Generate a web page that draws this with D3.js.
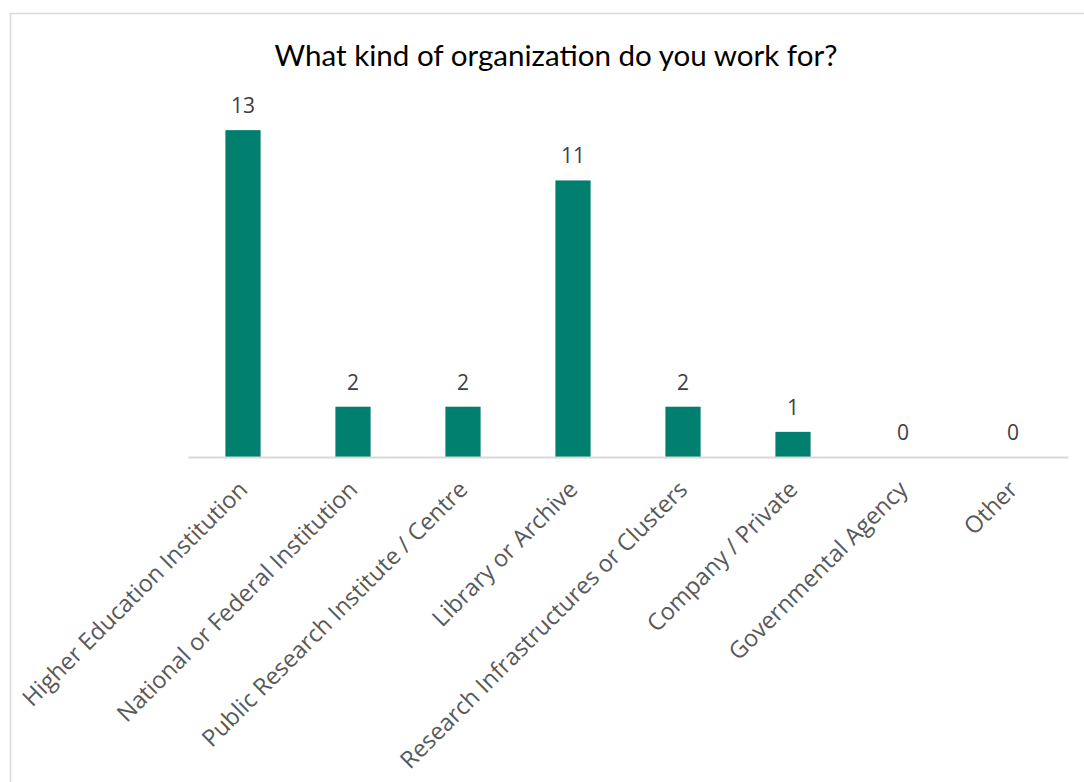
<!DOCTYPE html>
<html>
<head>
<meta charset="utf-8">
<script src="https://cdn.jsdelivr.net/npm/d3@7"></script>
<style>
  body { margin: 0; background: #fff; }
  svg { display: block; }
</style>
</head>
<body>
<script>
const categories = [
  "Higher Education Institution",
  "National or Federal Institution",
  "Public Research Institute / Centre",
  "Library or Archive",
  "Research Infrastructures or Clusters",
  "Company / Private",
  "Governmental Agency",
  "Other",
];
const counts = [13, 2, 2, 11, 2, 1, 0, 0];
const titleText = "What kind of organization do you work for?";

const canvass = {
  width: 1084,
  height: 782,
  left: 188,
  right: 1068,
  top: 105,
  bottom: 457,
};

const svg = d3
  .select("body")
  .append("svg")
  .attr("width", canvass.width)
  .attr("height", canvass.height);

// chart frame (runs off the right and bottom edge)
svg
  .append("rect")
  .attr("x", 10.5)
  .attr("y", 13.5)
  .attr("width", 1200)
  .attr("height", 900)
  .attr("fill", "none")
  .attr("stroke", "#d9d9d9")
  .attr("stroke-width", 1.5);

const title = svg
  .append("text")
  .attr("x", 556)
  .attr("y", 66)
  .attr("text-anchor", "middle")
  .style("font-family", "Lato, 'Liberation Sans', sans-serif")
  .style("font-size", "28px")
  .style("fill", "#000")
  .text(titleText);

// fit the substitute font to the original title width
const titleWidth = title.node().getComputedTextLength();
title.style("font-size", (28 * 563) / titleWidth + "px");

const xScale = d3
  .scaleBand()
  .domain(categories)
  .range([canvass.left, canvass.right])
  .paddingInner(0.68)
  .paddingOuter(0.34);

const yScale = d3
  .scaleLinear()
  .domain([0, 14])
  .range([canvass.bottom, canvass.top]);

svg
  .selectAll("rect.bar")
  .data(counts)
  .enter()
  .append("rect")
  .attr("class", "bar")
  .attr("x", (d, i) => xScale(categories[i]))
  .attr("y", (d) => yScale(d))
  .attr("width", xScale.bandwidth())
  .attr("height", (d) => canvass.bottom - yScale(d))
  .attr("fill", "#017f6e");

// value labels
svg
  .selectAll("text.value")
  .data(counts)
  .enter()
  .append("text")
  .attr("class", "value")
  .attr("x", (d, i) => xScale(categories[i]) + xScale.bandwidth() / 2)
  .attr("y", (d) => yScale(d) - 17)
  .attr("text-anchor", "middle")
  .style("font-family", "'Open Sans', sans-serif")
  .style("font-size", "21px")
  .style("fill", "#404040")
  .text((d) => d);

// category axis
const xAxis = svg
  .append("g")
  .attr("transform", `translate(0,${canvass.bottom})`)
  .call(d3.axisBottom(xScale).tickSize(0).tickSizeOuter(0).tickPadding(0));

xAxis.select(".domain").attr("stroke", "#d9d9d9").attr("stroke-width", 2);

xAxis
  .selectAll(".tick text")
  .attr("text-anchor", "end")
  .attr("dy", 0)
  .attr("y", 0)
  .attr("transform", "translate(6,34) rotate(-45)")
  .style("font-family", "'Open Sans', sans-serif")
  .style("font-size", "23.5px")
  .style("fill", "#595959");
</script>
</body>
</html>
